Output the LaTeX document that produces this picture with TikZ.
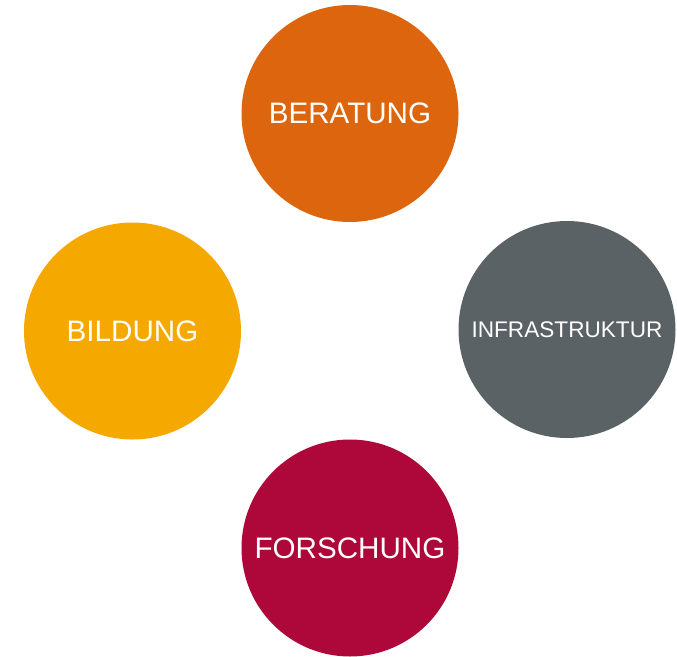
\documentclass[tikz,border=0pt]{standalone}
\usepackage{fontspec}
\setmainfont{Liberation Sans}
\definecolor{cOrange}{HTML}{DD650E}
\definecolor{cYellow}{HTML}{F5A800}
\definecolor{cGrey}{HTML}{5B6265}
\definecolor{cRed}{HTML}{AD0839}
\begin{document}
\begin{tikzpicture}[x=1pt,y=-1pt,
  disc/.style={circle,minimum size=217pt,inner sep=0pt,text=white,font=\fontsize{29.6}{32}\selectfont},
  smalldisc/.style={disc,font=\fontsize{22.6}{25}\selectfont}]
\useasboundingbox (0,0) rectangle (677,656);
\node[disc,fill=cOrange] (beratung) at (350,113.5) {BERATUNG};
\node[disc,fill=cYellow] (bildung) at (132.5,331) {BILDUNG};
\node[smalldisc,fill=cGrey] (infra) at (567,329.5) {INFRASTRUKTUR};
\node[disc,fill=cRed] (forschung) at (350,548) {FORSCHUNG};
\end{tikzpicture}
\end{document}
